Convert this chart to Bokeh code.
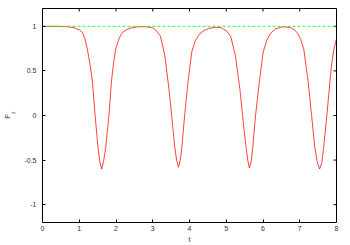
import math
from bokeh.plotting import figure
from bokeh.models import LinearAxis, FixedTicker, Range1d
from bokeh.embed import file_html
from bokeh.resources import INLINE

# Red curve P_z(t)
t_vals = [0.0, 0.4, 0.7, 0.86, 1.0, 1.09, 1.16, 1.22, 1.29, 1.36, 1.43, 1.51, 1.56, 1.61,
          1.66, 1.72, 1.81, 1.875, 1.93, 1.99, 2.08, 2.17, 2.30, 2.40, 2.6, 2.8,
          2.99, 3.10, 3.21, 3.33, 3.44, 3.53, 3.60, 3.65, 3.70, 3.75, 3.79, 3.87, 3.96,
          4.06, 4.15, 4.26, 4.40, 4.53, 4.7, 4.85,
          5.0, 5.12, 5.25, 5.37, 5.46, 5.54, 5.59, 5.63, 5.68, 5.72, 5.80, 5.90,
          6.005, 6.10, 6.20, 6.35, 6.56, 6.75,
          6.85, 6.93, 7.02, 7.11, 7.23, 7.32, 7.41, 7.48, 7.54, 7.60, 7.65, 7.74,
          7.82, 7.87, 7.93, 8.0]
pz_vals = [1.0, 1.0, 0.995, 0.985, 0.96, 0.93, 0.85, 0.745, 0.58, 0.376, 0.01, -0.36, -0.52, -0.60,
           -0.52, -0.36, 0.01, 0.376, 0.58, 0.745, 0.86, 0.93, 0.965, 0.98, 0.995, 0.995,
           0.985, 0.95, 0.89, 0.67, 0.30, -0.066, -0.36, -0.50, -0.58, -0.50, -0.36, 0.01, 0.376,
           0.71, 0.83, 0.91, 0.955, 0.977, 0.99, 0.985,
           0.95, 0.89, 0.67, 0.30, -0.066, -0.36, -0.51, -0.59, -0.51, -0.36, 0.01, 0.376,
           0.71, 0.84, 0.92, 0.975, 0.995, 0.985,
           0.96, 0.93, 0.86, 0.745, 0.376, 0.01, -0.36, -0.53, -0.60, -0.53, -0.36, 0.01,
           0.376, 0.58, 0.745, 0.86]

# Green dashed reference line
ref_t = [0.0, 8.0]
ref_pz = [1.0, 1.0]

x_ticks = [0, 1, 2, 3, 4, 5, 6, 7, 8]
y_ticks = [-1, -0.5, 0, 0.5, 1]
y_tick_labels = ["-1", "-0.5", "0", "0.5", "1"]
x_min, x_max = 0, 8
y_min, y_max = -1.2, 1.2
x_title = "t"
y_title_main = "P"
y_title_sub = "z"

FONT = "Liberation Sans"
TEXT_COLOR = "#333333"
NBSP = "\u00a0"

p = figure(width=350, height=245, x_range=Range1d(x_min, x_max), y_range=Range1d(y_min, y_max),
           output_backend="svg", toolbar_location=None,
           x_axis_location=None, y_axis_location=None,
           min_border_left=42, min_border_right=14, min_border_top=8, min_border_bottom=22)
p.grid.grid_line_color = None
p.outline_line_color = "black"
p.outline_line_width = 1
p.background_fill_color = "white"
p.border_fill_color = "white"


def make_axis(ticks, overrides=None):
    ax = LinearAxis(ticker=FixedTicker(ticks=ticks))
    ax.axis_line_color = None
    ax.major_tick_in = 3
    ax.major_tick_out = 0
    ax.major_tick_line_color = "black"
    ax.minor_tick_line_color = None
    ax.major_label_text_font = FONT
    ax.major_label_text_font_size = "7px"
    ax.major_label_text_color = TEXT_COLOR
    ax.axis_label_text_font = FONT
    ax.axis_label_text_font_style = "normal"
    ax.axis_label_text_color = TEXT_COLOR
    if overrides:
        ax.major_label_overrides = overrides
    return ax


def title_axis(text, size, standoff):
    ax = LinearAxis(ticker=FixedTicker(ticks=[]))
    ax.axis_line_color = None
    ax.major_tick_line_color = None
    ax.minor_tick_line_color = None
    ax.major_tick_in = 0
    ax.major_tick_out = 0
    ax.major_label_standoff = 0
    ax.axis_label = text
    ax.axis_label_text_font = FONT
    ax.axis_label_text_font_style = "normal"
    ax.axis_label_text_font_size = size
    ax.axis_label_text_color = TEXT_COLOR
    ax.axis_label_standoff = standoff
    return ax


bottom = make_axis(x_ticks)
bottom.major_label_standoff = 3
bottom.axis_label = x_title
bottom.axis_label_text_font_size = "7px"
bottom.axis_label_standoff = 2
left = make_axis(y_ticks, {k: v for k, v in zip(y_ticks, y_tick_labels)})
left.major_label_standoff = 6
p.add_layout(bottom, "below")
p.add_layout(left, "left")
# subscript "z" (raised a little with leading no-break spaces), then the main "P"
p.add_layout(title_axis(NBSP * 4 + y_title_sub, "5px", 6), "left")
p.add_layout(title_axis(y_title_main + NBSP, "7px", -4), "left")

# mirrored inward ticks on the top and right borders
p.ray(x=x_ticks, y=[y_max] * len(x_ticks), length=3, length_units="screen",
      angle=-math.pi / 2, line_color="black", line_width=1)
p.ray(x=[x_max] * len(y_ticks), y=y_ticks, length=3, length_units="screen",
      angle=math.pi, line_color="black", line_width=1)

p.line(t_vals, pz_vals, line_color="#ff0000", line_width=1, line_alpha=0.75)
p.line(ref_t, ref_pz, line_color="#00ff00", line_width=1, line_dash="3 2", line_alpha=0.8)

open("out.html", "w").write(file_html(p, INLINE))
